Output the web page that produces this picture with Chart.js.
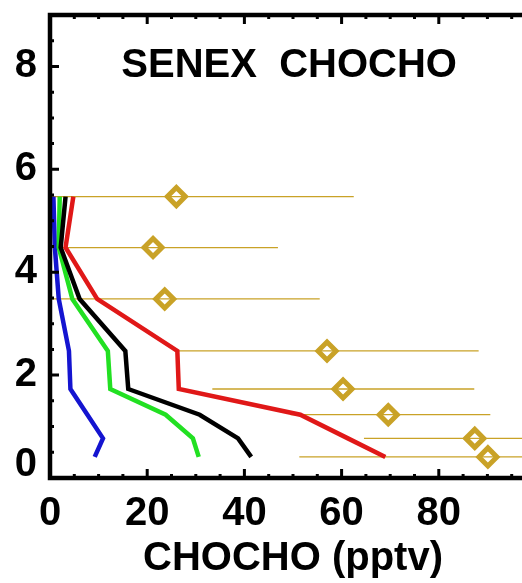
<!DOCTYPE html>
<html>
<head>
<meta charset="utf-8">
<script src="https://cdn.jsdelivr.net/npm/chart.js@4"></script>
<style>
  html, body { margin: 0; padding: 0; background: #fff; overflow: hidden; }
  #wrap { width: 560px; height: 583px; }
</style>
</head>
<body>
<div id="wrap"><canvas id="chart" width="560" height="583"></canvas></div>
<script>
// altitude levels (km) shared by the observations and the model profiles
const altitudes = [5.47, 4.48, 3.48, 2.47, 1.73, 1.23, 0.77, 0.41];

// observed CHOCHO: mean and the low / high end of the spread bars (pptv)
const obsMean = [26.0, 21.2, 23.6, 57.0, 60.3, 69.6, 87.4, 90.1];
const obsLow = [-10.5, -4.5, -8.3, 26.5, 33.4, 49.5, 64.6, 51.3];
const obsHigh = [62.5, 46.9, 55.5, 88.2, 87.3, 90.6, 110.2, 128.9];

// model profiles (pptv)
const blueProfile = [0.7, 1.0, 1.8, 3.9, 4.2, 7.7, 10.9, 9.2];
const greenProfile = [2.0, 1.8, 4.6, 11.9, 12.4, 23.8, 29.4, 30.6];
const blackProfile = [3.2, 2.2, 6.1, 15.5, 16.1, 30.8, 38.7, 41.4];
const redProfile = [4.8, 3.2, 9.7, 26.2, 26.5, 51.5, 61.3, 69.0];

const xTicks = [0, 20, 40, 60, 80, 100];
const yTicks = [0, 2, 4, 6, 8];
const titleText = "SENEX  CHOCHO";
const xTitle = "CHOCHO (pptv)";

const GOLD = "#c9a227";
const FONT = "'Liberation Sans', Arial, sans-serif";

function profile(values, color) {
  return {
    data: values.map((v, i) => ({ x: v, y: altitudes[i] })),
    showLine: true,
    borderColor: color,
    borderWidth: 4.5,
    pointRadius: 0,
    tension: 0,
  };
}

function errorBars() {
  return altitudes.map((alt, i) => ({
    data: [
      { x: obsLow[i], y: alt },
      { x: obsHigh[i], y: alt },
    ],
    showLine: true,
    borderColor: GOLD,
    borderWidth: 1.3,
    pointRadius: 0,
  }));
}

const framePlugin = {
  id: "frame",
  afterDatasetsDraw(chart) {
    const { ctx, chartArea: a, scales } = chart;
    const x = scales.x;
    const y = scales.y;
    ctx.save();
    ctx.strokeStyle = "#000";
    ctx.lineCap = "butt";

    // inward ticks
    ctx.lineWidth = 3;
    for (let v = 0; v <= 100; v += 5) {
      const px = x.getPixelForValue(v);
      const len = v % 20 === 0 ? 9 : 4;
      ctx.beginPath();
      ctx.moveTo(px, a.bottom);
      ctx.lineTo(px, a.bottom - len);
      ctx.moveTo(px, a.top);
      ctx.lineTo(px, a.top + len);
      ctx.stroke();
    }
    for (let v = 0; v <= 9; v += 0.5) {
      const py = y.getPixelForValue(v);
      const len = v % 2 === 0 ? 9 : 4;
      ctx.beginPath();
      ctx.moveTo(a.left, py);
      ctx.lineTo(a.left + len, py);
      ctx.moveTo(a.right, py);
      ctx.lineTo(a.right - len, py);
      ctx.stroke();
    }

    // frame
    ctx.lineWidth = 4.5;
    ctx.strokeRect(a.left, a.top, a.right - a.left, a.bottom - a.top);

    // in-plot title
    ctx.fillStyle = "#000";
    ctx.font = `bold 40px ${FONT}`;
    ctx.textAlign = "center";
    ctx.textBaseline = "middle";
    ctx.fillText(titleText, x.getPixelForValue(49.2), y.getPixelForValue(8));

    // the 0 label sits a little above its tick, as in the original
    ctx.textAlign = "right";
    ctx.fillText("0", a.left - 13, y.getPixelForValue(0) - 13);
    ctx.restore();
  },
};

new Chart(document.getElementById("chart"), {
  type: "scatter",
  data: {
    datasets: [
      {
        data: obsMean.map((v, i) => ({ x: v, y: altitudes[i] })),
        pointStyle: "rectRot",
        pointRadius: 9,
        borderWidth: 5,
        borderColor: GOLD,
        backgroundColor: "rgba(255,255,255,0)",
      },
      profile(redProfile, "#e01818"),
      profile(blackProfile, "#000000"),
      profile(greenProfile, "#22e022"),
      profile(blueProfile, "#1414d0"),
      ...errorBars(),
    ],
  },
  options: {
    responsive: false,
    devicePixelRatio: 1,
    animation: false,
    events: [],
    layout: { padding: { top: 15, right: 24, left: 0, bottom: 0 } },
    plugins: { legend: { display: false }, tooltip: { enabled: false } },
    scales: {
      x: {
        type: "linear",
        min: 0,
        max: 100,
        afterBuildTicks: (s) => {
          s.ticks = xTicks.map((v) => ({ value: v }));
        },
        afterFit: (s) => {
          s.height = 105;
          s.paddingLeft = 0;
          s.paddingRight = 0;
        },
        grid: { display: false, drawTicks: false },
        border: { display: false },
        ticks: {
          autoSkip: false,
          maxRotation: 0,
          padding: 12,
          color: "#000",
          font: { family: FONT, size: 40, weight: "bold" },
          callback: (v) => (v === 100 ? "" : v),
        },
        title: {
          display: true,
          text: xTitle,
          color: "#000",
          font: { family: FONT, size: 40, weight: "bold" },
          padding: { top: 0, bottom: 0 },
        },
      },
      y: {
        type: "linear",
        min: 0,
        max: 9,
        afterBuildTicks: (s) => {
          s.ticks = yTicks.map((v) => ({ value: v }));
        },
        afterFit: (s) => {
          s.width = 50;
          s.paddingTop = 0;
          s.paddingBottom = 0;
        },
        grid: { display: false, drawTicks: false },
        border: { display: false },
        ticks: {
          padding: 13,
          color: "#000",
          font: { family: FONT, size: 40, weight: "bold" },
          callback: (v) => (v === 0 ? "" : v),
        },
      },
    },
  },
  plugins: [framePlugin],
});
</script>
</body>
</html>
